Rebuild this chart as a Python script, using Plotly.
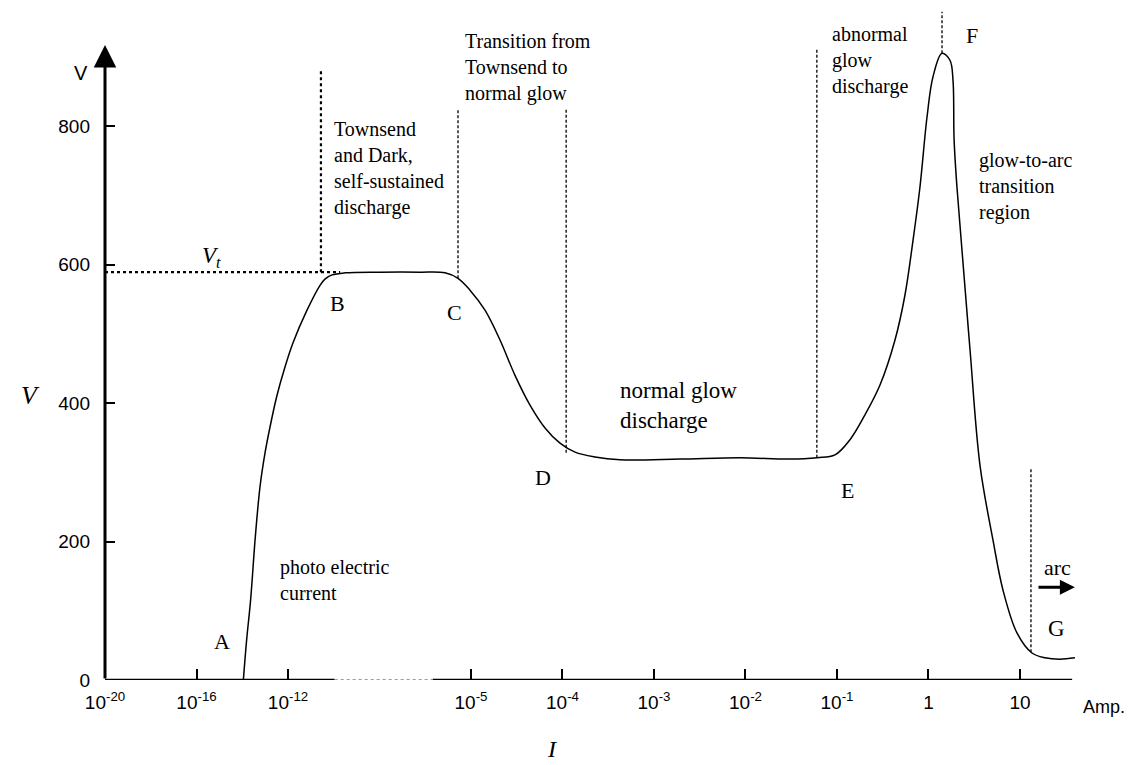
import plotly.graph_objects as go

# Schematic current axis: one unit per labelled decade (gap between 1e-12 and 1e-5)
decade_pos = [0, 1, 2, 4, 5, 6, 7, 8, 9, 10]
decade_labels = ["10<sup>-20</sup>", "10<sup>-16</sup>", "10<sup>-12</sup>", "10<sup>-5</sup>",
                 "10<sup>-4</sup>", "10<sup>-3</sup>", "10<sup>-2</sup>", "10<sup>-1</sup>", "1", "10"]
volt_ticks = [0, 200, 400, 600, 800]

# Discharge characteristic: position on the current axis and voltage
i_pos = [1.512, 1.548, 1.591, 1.643, 1.694, 1.749, 1.803, 1.876, 1.967, 2.055, 2.204, 2.350,
         2.404, 2.481, 2.623, 3.005, 3.443, 3.716, 3.858, 3.989, 4.153, 4.317, 4.481, 4.645,
         4.809, 4.973, 5.137, 5.355, 5.628, 6.284, 6.940, 7.486, 7.781, 7.978, 8.142, 8.306,
         8.470, 8.634, 8.743, 8.831, 8.907, 8.984, 9.049, 9.148, 9.235, 9.268, 9.280, 9.311,
         9.366, 9.454, 9.563, 9.705, 9.814, 9.967, 10.131, 10.273, 10.437, 10.601]
volts = [0, 58, 115, 207, 279, 328, 365, 409, 452, 487, 533, 570,
         579, 585, 588, 589, 589, 588, 580, 563, 534, 491, 440, 397,
         364, 342, 329, 322, 318, 319, 321, 319, 321, 325, 347, 383,
         426, 491, 556, 635, 712, 813, 871, 905, 895, 866, 780, 712,
         621, 477, 310, 202, 130, 68, 39, 32, 30, 32]

# Breakdown voltage V_t and the region boundaries (position, lower V, upper V)
v_t = 589
v_t_end = 2.57
bound_b = (2.36, 589, 879)
bound_dashed = [(3.858, 580, 825), (5.04, 328, 825), (7.78, 321, 910),
                (9.148, 905, 965), (10.12, 40, 306)]

SERIF = "Liberation Serif, Times New Roman, serif"
SANS = "Liberation Sans, Arial, sans-serif"

fig = go.Figure()

fig.add_trace(go.Scatter(x=i_pos, y=volts, mode="lines", line=dict(color="black", width=1.5),
                         line_shape="spline", hoverinfo="skip"))

fig.add_trace(go.Scatter(x=[0, v_t_end], y=[v_t, v_t], mode="lines",
                         line=dict(color="black", width=2.2, dash="dot"), hoverinfo="skip"))
fig.add_trace(go.Scatter(x=[bound_b[0], bound_b[0]], y=[bound_b[1], bound_b[2]], mode="lines",
                         line=dict(color="black", width=2.2, dash="dot"), hoverinfo="skip"))
for xb, y0, y1 in bound_dashed:
    fig.add_trace(go.Scatter(x=[xb, xb], y=[y0, y1], mode="lines",
                             line=dict(color="black", width=1.3, dash="3px,2px"), hoverinfo="skip"))

# Axis lines
x_end = 10.57
fig.add_shape(type="line", x0=0, x1=x_end, y0=0, y1=0, xref="x", yref="y",
              line=dict(color="black", width=2.5))
# broken section of the current axis
fig.add_shape(type="line", x0=2.51, x1=3.58, y0=0, y1=0, xref="x", yref="y",
              line=dict(color="white", width=4))
fig.add_shape(type="line", x0=2.51, x1=3.58, y0=0, y1=0, xref="x", yref="y",
              line=dict(color="#9a9a9a", width=2, dash="dot"))

annotations = [
    # voltage axis with arrow head
    dict(x=0, y=917, ax=0, ay=0, xref="x", yref="y", axref="x", ayref="y", text="",
         showarrow=True, arrowhead=2, arrowsize=1.5, arrowwidth=3, arrowcolor="black", standoff=0),
    # arc arrow
    dict(x=10.60, y=134, ax=10.186, ay=134, xref="x", yref="y", axref="x", ayref="y", text="",
         showarrow=True, arrowhead=2, arrowsize=1.0, arrowwidth=3, arrowcolor="black", standoff=0),
]


def label(x, y, text, size=20, font=SERIF, xanchor="left", italic=False, yshift=0,
          xref="x", yref="y"):
    annotations.append(dict(x=x, y=y, text=text, xref=xref, yref=yref, showarrow=False,
                            xanchor=xanchor, yanchor="middle", align="left", yshift=yshift,
                            font=dict(family=font, size=size, color="black",
                                      style="italic" if italic else "normal")))


label(2.48, 739, "Townsend<br>and Dark,<br>self-sustained<br>discharge")
label(3.913, 885, "Transition from<br>Townsend to<br>normal glow")
label(7.923, 894, "abnormal<br>glow<br>discharge")
label(9.53, 712, "glow-to-arc<br>transition<br>region")
label(5.607, 397, "normal glow<br>discharge", size=23)
label(1.891, 144, "photo electric<br>current")
label(10.415, 162, "arc", size=22, xanchor="center")
label(1.279, 55, "A", size=22, xanchor="center")
label(2.536, 544, "B", size=22, xanchor="center")
label(3.825, 531, "C", size=22, xanchor="center")
label(4.787, 292, "D", size=22, xanchor="center")
label(8.12, 274, "E", size=22, xanchor="center")
label(9.475, 931, "F", size=22, xanchor="center")
label(10.404, 75, "G", size=23, xanchor="center")
label(1.169, 611, "V<sub>t</sub>", size=23, xanchor="center", italic=True)
label(10.915, 0, "Amp.", size=18, font=SANS, xanchor="center", yshift=-27)
label(4.88, 0, "I", size=24, xanchor="center", italic=True, yshift=-69)
# labels sitting left of the voltage axis, placed in paper coordinates
label(-0.0233, 0.893, "V", size=20, font=SANS, xanchor="center", xref="paper", yref="paper")
label(-0.0727, 0.419, "V", size=26, xanchor="center", italic=True, xref="paper", yref="paper")

fig.update_layout(
    width=1136, height=765,
    margin=dict(l=105, r=0, t=0, b=85),
    paper_bgcolor="white", plot_bgcolor="white",
    showlegend=False,
    annotations=annotations,
    xaxis=dict(range=[0, 11.268], tickvals=decade_pos, ticktext=decade_labels,
               ticks="inside", ticklen=11, tickwidth=1.5, tickcolor="black",
               showgrid=False, zeroline=False, showline=False,
               tickfont=dict(family=SANS, size=19, color="black"), ticklabelstandoff=9),
    yaxis=dict(range=[0, 982], tickvals=volt_ticks, ticktext=[str(v) for v in volt_ticks],
               ticks="inside", ticklen=10, tickwidth=1.5, tickcolor="black",
               showgrid=False, zeroline=False, showline=False,
               tickfont=dict(family=SANS, size=19, color="black"), ticklabelstandoff=14),
)

fig.write_html("out.html")
